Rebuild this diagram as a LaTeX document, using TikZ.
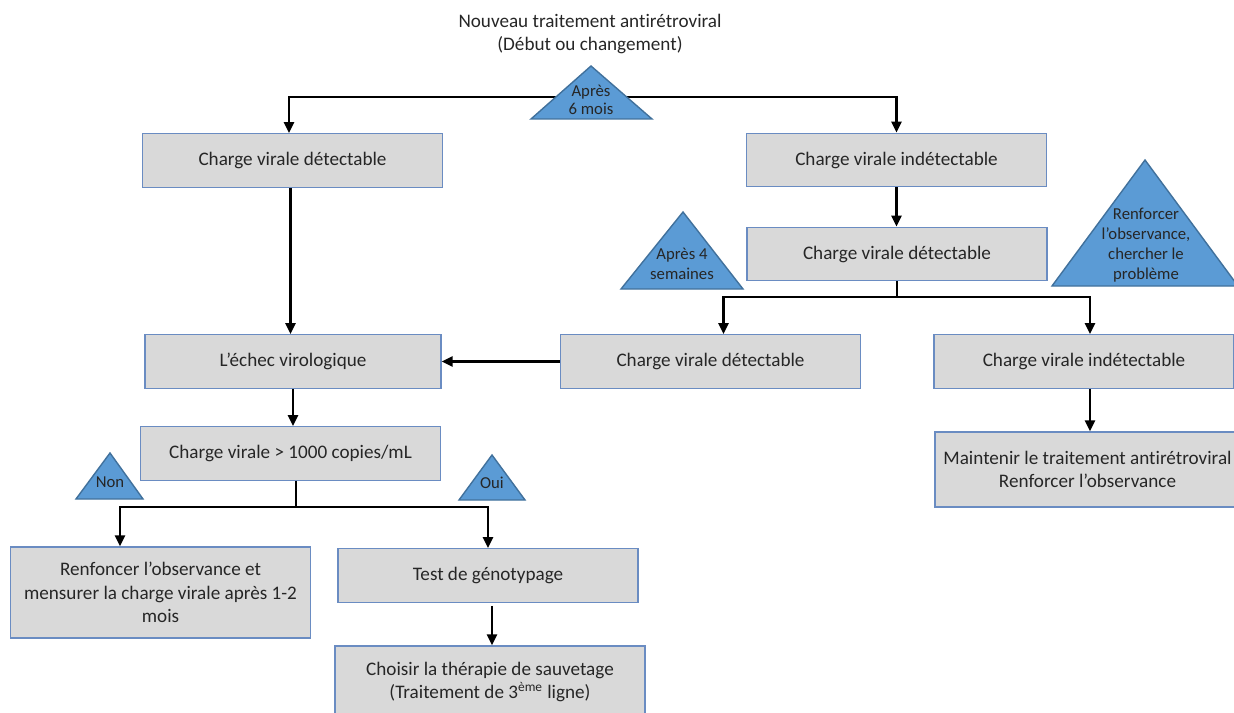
\documentclass[tikz,border=0pt]{standalone}
\usepackage{fontspec}
\setmainfont[Ligatures=NoCommon]{Carlito}
\usepackage{tikz}
\usetikzlibrary{arrows.meta, positioning}
\definecolor{boxfill}{HTML}{D9D9D9}
\definecolor{boxline}{HTML}{6A8CC2}
\definecolor{trifill}{HTML}{5B9BD5}
\definecolor{triline}{HTML}{41719C}
\tikzstyle{arrow} = [line width=1.4pt, -{Triangle[length=2.2mm,width=2mm]}]
\tikzstyle{link} = [line width=1.4pt]
\tikzset{box/.style={draw=boxline, fill=boxfill, line width=0.8pt, align=center, minimum width=6cm, minimum height=1.07cm, inner sep=0pt, text=black!85, font=\fontsize{10.9}{13.5}\selectfont},
  tri/.style={fill=trifill, draw=triline, line width=0.8pt},
  tritext/.style={align=center, inner sep=0pt, text=black!85, font=\fontsize{9.5}{11.3}\selectfont}}

\begin{document}
\begin{tikzpicture}[x=0.02cm, y=-0.02cm]
        \useasboundingbox (0,0) rectangle (1234,713);
        % Title
        \node (title) at (590,34) [align=center, text=black!85, font=\fontsize{10.9}{13}\selectfont] {Nouveau traitement antirétroviral\\(Début ou changement)};

        % Boxes
        \node[box] (cvd) at (292.5,160.5) {Charge virale détectable};
        \node[box] (cvi) at (896.5,160) {Charge virale indétectable};
        \node[box] (cvd2) at (897,254) {Charge virale détectable};
        \node[box] (cvd3) at (710.5,361.5) {Charge virale détectable};
        \node[box] (cvi2) at (1084,361.5) {Charge virale indétectable};
        \node[box, minimum width=6.1cm, minimum height=1.5cm] (maint) at (1087.5,469.5) {Maintenir le traitement antirétroviral\\Renforcer l’observance};
        \node[box, minimum width=5.92cm] (echec) at (293,361.5) {L’échec virologique};
        \node[box] (seuil) at (290.5,453.5) {Charge virale > 1000 copies/mL};
        \node[box, minimum height=1.82cm] (renf) at (160.5,592.5) {Renfoncer l’observance et\\mensurer la charge virale après 1-2\\mois};
        \node[box] (geno) at (488,575.5) {Test de génotypage};
        \node[box, minimum width=6.2cm, minimum height=1.44cm] (sauv) at (490,682) {Choisir la thérapie de sauvetage\\(Traitement de 3\textsuperscript{ème} ligne)};

        % Connectors
        \coordinate (top) at (591,97);
        \draw[arrow] (top) -| ([xshift=-0.07cm]cvd.north);
        \draw[arrow] (top) -| (cvi.north);
        \draw[arrow] (cvi.south) -- (cvi.south |- cvd2.north);
        \coordinate (split1) at (897,297);
        \draw[link] (cvd2.south) -- (split1);
        \draw[arrow] (split1) -| ([xshift=0.26cm]cvd3.north);
        \draw[arrow] (split1) -| ([xshift=0.12cm]cvi2.north);
        \draw[arrow] ([xshift=0.12cm]cvi2.south) -- ([xshift=0.12cm]cvi2.south |- maint.north);
        \draw[arrow] ([xshift=-0.04cm]cvd.south) -- ([xshift=-0.04cm]cvd.south |- echec.north);
        \draw[arrow] (cvd3.west) -- (echec.east);
        \draw[arrow] (echec.south) -- (echec.south |- seuil.north);
        \coordinate (split2) at (296,507);
        \draw[link] (split2 |- seuil.south) -- (split2);
        \draw[arrow] (split2) -| ([xshift=-0.81cm]renf.north);
        \draw[arrow] (split2) -| (geno.north);
        \draw[arrow] ([yshift=-0.06cm, xshift=0.08cm]geno.south) -- ([xshift=0.08cm]geno.south |- sauv.north);

        % Triangles
        \draw[tri] (531,119) -- (591,66) -- (652,119) -- cycle;
        \node[tritext, font=\fontsize{9.5}{10}\selectfont] (t6mois) at (591,100) {Après\\6 mois};
        \draw[tri] (621,289) -- (683,212) -- (743,289) -- cycle;
        \node[tritext] (t4sem) at (682,264) {Après 4\\semaines};
        \draw[tri] (1052,286) -- (1145,160) -- (1238,286) -- cycle;
        \node[tritext] (tprob) at (1146,245) {Renforcer\\l’observance,\\chercher le\\problème};
        \draw[tri] (76,499) -- (110,453) -- (143,499) -- cycle;
        \node[tritext] (tnon) at (110,482) {Non};
        \draw[tri] (459,500) -- (492,455) -- (525,500) -- cycle;
        \node[tritext] (toui) at (492,483) {Oui};
\end{tikzpicture}
\end{document}
